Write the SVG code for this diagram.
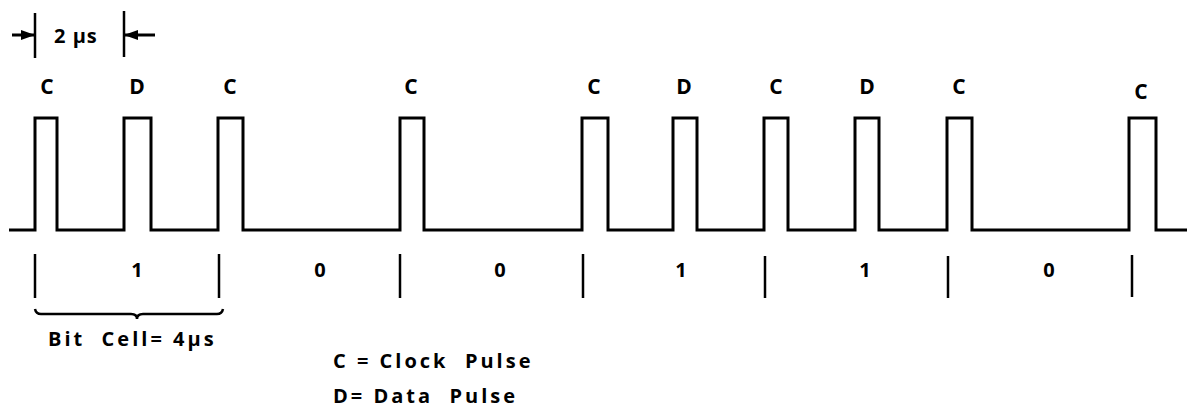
<svg xmlns="http://www.w3.org/2000/svg" width="1189" height="413" viewBox="0 0 1189 413">
<style>
.t{font-family:"Open Sans","DejaVu Sans",sans-serif;font-weight:700;font-size:20px;fill:#000}
.big{font-size:21px}
.lbl{text-anchor:middle}
.w{fill:none;stroke:#000;stroke-width:3;stroke-linejoin:miter}
.m{stroke:#000;stroke-width:2.5;fill:none}
</style>
<defs>
<marker id="ah" markerWidth="14" markerHeight="10" refX="13" refY="5" orient="auto" markerUnits="userSpaceOnUse">
<path d="M0,0 L14,5 L0,10 z" fill="#000"/>
</marker>
</defs>
<g id="waveform">
<path class="w" d="M9,230 H35 V118 H57 V230 H124 V118 H151 V230 H218 V118 H243 V230 H400 V118 H424 V230 H582 V118 H608 V230 H673 V118 H697 V230 H764 V118 H788 V230 H855 V118 H879 V230 H947 V118 H972 V230 H1129 V118 H1156 V230 H1187"/>
</g>
<g id="pulse-labels" class="t big lbl">
<text x="47" y="94">C</text>
<text x="137" y="94">D</text>
<text x="230" y="94">C</text>
<text x="411" y="94">C</text>
<text x="594" y="94">C</text>
<text x="684" y="94">D</text>
<text x="776" y="94">C</text>
<text x="867" y="94">D</text>
<text x="959" y="94">C</text>
<text x="1141" y="99">C</text>
</g>
<g id="dimension">
<line class="m" x1="35" y1="13" x2="35" y2="58"/>
<line class="m" x1="124" y1="11" x2="124" y2="57"/>
<line x1="12" y1="35" x2="34" y2="35" stroke="#000" stroke-width="3" marker-end="url(#ah)"/>
<line x1="155" y1="35" x2="125" y2="35" stroke="#000" stroke-width="3" marker-end="url(#ah)"/>
<text class="t" x="54" y="43" xml:space="preserve" style="letter-spacing:1px">2 μs</text>
</g>
<g id="bit-markers">
<line class="m" x1="35" y1="254" x2="35" y2="298"/>
<line class="m" x1="219" y1="254" x2="219" y2="298"/>
<line class="m" x1="400" y1="254" x2="400" y2="298"/>
<line class="m" x1="583" y1="254" x2="583" y2="298"/>
<line class="m" x1="765" y1="256" x2="765" y2="298"/>
<line class="m" x1="948" y1="256" x2="948" y2="298"/>
<line class="m" x1="1132" y1="255" x2="1132" y2="297"/>
</g>
<g id="bit-values" class="t lbl">
<text x="137" y="277">1</text>
<text x="320" y="277">0</text>
<text x="500" y="277">0</text>
<text x="681" y="277">1</text>
<text x="865" y="277">1</text>
<text x="1049" y="277">0</text>
</g>
<g id="bit-cell">
<path class="m" stroke-width="2" d="M35,309 Q36,314 41,314 H131 Q137,314 137,319 Q137,314 143,314 H217 Q222,314 223,309"/>
<text class="t" x="48" y="346" style="letter-spacing:3px" xml:space="preserve">Bit  Cell= 4μs</text>
</g>
<g id="legend" class="t" style="letter-spacing:3px">
<text x="333" y="368" xml:space="preserve">C = Clock  Pulse</text>
<text x="333" y="403" xml:space="preserve">D= Data  Pulse</text>
</g>
</svg>
